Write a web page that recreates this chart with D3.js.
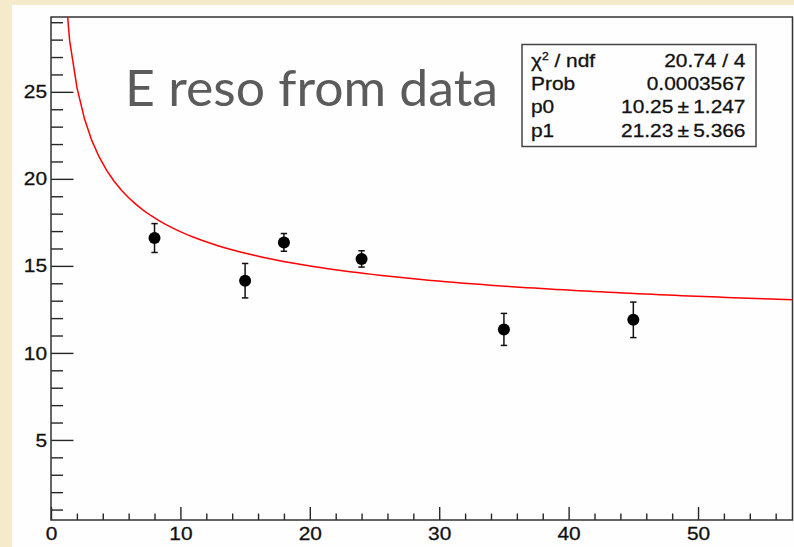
<!DOCTYPE html>
<html>
<head>
<meta charset="utf-8">
<script src="https://cdn.jsdelivr.net/npm/d3@7"></script>
<style>
  html, body { margin: 0; padding: 0; background: #f5ebcb; }
  svg { display: block; }
</style>
</head>
<body>
<svg id="chart" width="794" height="547"></svg>
<script>
// ---- data ----
const xValues = [8, 15, 18, 24, 35, 45];
const yValues = [16.6, 14.15, 16.35, 15.4, 11.35, 11.9];
const yErrors = [0.83, 0.99, 0.51, 0.47, 0.92, 1.02];
const xMajorTicks = [0, 10, 20, 30, 40, 50];
const xMinorTicks = [2,4,6,8,12,14,16,18,22,24,26,28,32,34,36,38,42,44,46,48,52,54,56];
const yMajorTicks = [5, 10, 15, 20, 25];
const yMinorTicks = [1,2,3,4,6,7,8,9,11,12,13,14,16,17,18,19,21,22,23,24,26,27,28,29];
const fitP0 = 10.25, fitP1 = 21.23;
const titleText = "E reso from data";
const statsLabels = ["\u03C7\u00B2 / ndf", "Prob", "p0", "p1"];
const statsValues = ["20.74 / 4", "0.0003567", "10.25\u2009\u00B1\u20091.247", "21.23\u2009\u00B1\u20095.366"];

// ---- layout ----
const W = 794, H = 547;
const frame = {left: 51, right: 792.5, top: 17, bottom: 520};
const svg = d3.select("#chart");
const SX = 1.1; // horizontal stretch of Helvetica-like text

// parchment background & white pad
svg.append("rect").attr("x", 0).attr("y", 0).attr("width", W).attr("height", H).attr("fill", "#f5ebcb");
svg.append("rect").attr("x", 12).attr("y", 5).attr("width", W - 12).attr("height", H - 5).attr("fill", "#fefefe");

const x = d3.scaleLinear().domain([0, 57.3]).range([frame.left, frame.right]);
const y = d3.scaleLinear().domain([0.4, 29.3]).range([frame.bottom, frame.top]);

svg.append("clipPath").attr("id", "clip").append("rect")
  .attr("x", frame.left).attr("y", frame.top)
  .attr("width", frame.right - frame.left).attr("height", frame.bottom - frame.top);

const font = "'Liberation Sans', Arial, Helvetica, sans-serif";
const axisColor = "#262626";

function styleAxis(g) {
  g.select(".domain").remove();
  g.selectAll("line").attr("stroke", axisColor).attr("stroke-width", 1.4);
  g.selectAll("text").attr("fill", "#111").attr("stroke", "#111").attr("stroke-width", 0.3)
    .style("font-family", font).style("font-size", "19px");
}
// x axis
svg.append("g").attr("transform", `translate(0,${frame.bottom})`)
  .call(d3.axisBottom(x).tickValues(xMinorTicks).tickSizeInner(-6.5).tickSizeOuter(0).tickFormat(""))
  .call(styleAxis);
const gx = svg.append("g").attr("transform", `translate(0,${frame.bottom})`)
  .call(d3.axisBottom(x).tickValues(xMajorTicks).tickSizeInner(-13).tickSizeOuter(0).tickPadding(7).tickFormat(d3.format("d")))
  .call(styleAxis);
gx.selectAll("text").attr("transform", `scale(${SX},1)`);

// y axis
svg.append("g").attr("transform", `translate(${frame.left},0)`)
  .call(d3.axisLeft(y).tickValues(yMinorTicks).tickSizeInner(-12).tickSizeOuter(0).tickFormat(""))
  .call(styleAxis);
const gy = svg.append("g").attr("transform", `translate(${frame.left},0)`)
  .call(d3.axisLeft(y).tickValues(yMajorTicks).tickSizeInner(-22.5).tickSizeOuter(0).tickPadding(4).tickFormat(d3.format("d")))
  .call(styleAxis);
gy.selectAll("text").attr("transform", `scale(${SX},1)`).attr("x", -4 / SX);

// frame
svg.append("rect")
  .attr("x", frame.left).attr("y", frame.top)
  .attr("width", frame.right - frame.left).attr("height", frame.bottom - frame.top)
  .attr("fill", "none").attr("stroke", "#333").attr("stroke-width", 1.5);

// title
svg.append("text")
  .attr("x", 125).attr("y", 106)
  .attr("textLength", 373).attr("lengthAdjust", "spacingAndGlyphs")
  .style("font-family", "'Lato', 'Open Sans', sans-serif")
  .style("font-size", "50px")
  .attr("fill", "#5b5b5b")
  .text(titleText);

// fit curve: p0 + p1/sqrt(x)
const fitX = d3.range(101).map(i => 0.3 + i * (57.3 - 0.3) / 100);
const fitLine = d3.line().x(d => x(d)).y(d => y(fitP0 + fitP1 / Math.sqrt(d)));
svg.append("path")
  .datum(fitX)
  .attr("clip-path", "url(#clip)")
  .attr("d", fitLine)
  .attr("fill", "none").attr("stroke", "#ff0000").attr("stroke-width", 1.5);

// data points with error bars
const pts = xValues.map((v, i) => ({x: v, y: yValues[i], e: yErrors[i]}));
const gp = svg.append("g");
const cap = 3.2;
pts.forEach(p => {
  const cx = x(p.x), top = y(p.y + p.e), bot = y(p.y - p.e);
  gp.append("line").attr("x1", cx).attr("x2", cx).attr("y1", top).attr("y2", bot)
    .attr("stroke", "#111").attr("stroke-width", 1.5);
  gp.append("line").attr("x1", cx - cap).attr("x2", cx + cap).attr("y1", top).attr("y2", top)
    .attr("stroke", "#111").attr("stroke-width", 1.5);
  gp.append("line").attr("x1", cx - cap).attr("x2", cx + cap).attr("y1", bot).attr("y2", bot)
    .attr("stroke", "#111").attr("stroke-width", 1.5);
  gp.append("circle").attr("cx", cx).attr("cy", y(p.y)).attr("r", 6).attr("fill", "#000");
});

// stats box
const box = {x: 522, y: 44.5, w: 234, h: 102};
svg.append("rect").attr("x", box.x).attr("y", box.y).attr("width", box.w).attr("height", box.h)
  .attr("fill", "#fefefe").attr("stroke", "#444").attr("stroke-width", 1.5);
const baselines = [66.5, 90, 113.3, 136.7];
statsLabels.forEach((lab, i) => {
  const t = svg.append("text")
    .attr("transform", `translate(531,${baselines[i]}) scale(${SX},1)`)
    .style("font-family", font).style("font-size", "19px")
    .attr("fill", "#111").attr("stroke", "#111").attr("stroke-width", 0.3);
  if (i === 0) {
    t.append("tspan").text("\u03C7");
    t.append("tspan").attr("dy", -7).style("font-size", "11px").text("2");
    t.append("tspan").attr("dy", 7).text(" / ndf");
  } else {
    t.text(lab);
  }
  svg.append("text")
    .attr("transform", `translate(745.5,${baselines[i]}) scale(${SX},1)`)
    .attr("text-anchor", "end")
    .style("font-family", font).style("font-size", "19px")
    .attr("fill", "#111").attr("stroke", "#111").attr("stroke-width", 0.3)
    .text(statsValues[i]);
});
</script>
</body>
</html>
